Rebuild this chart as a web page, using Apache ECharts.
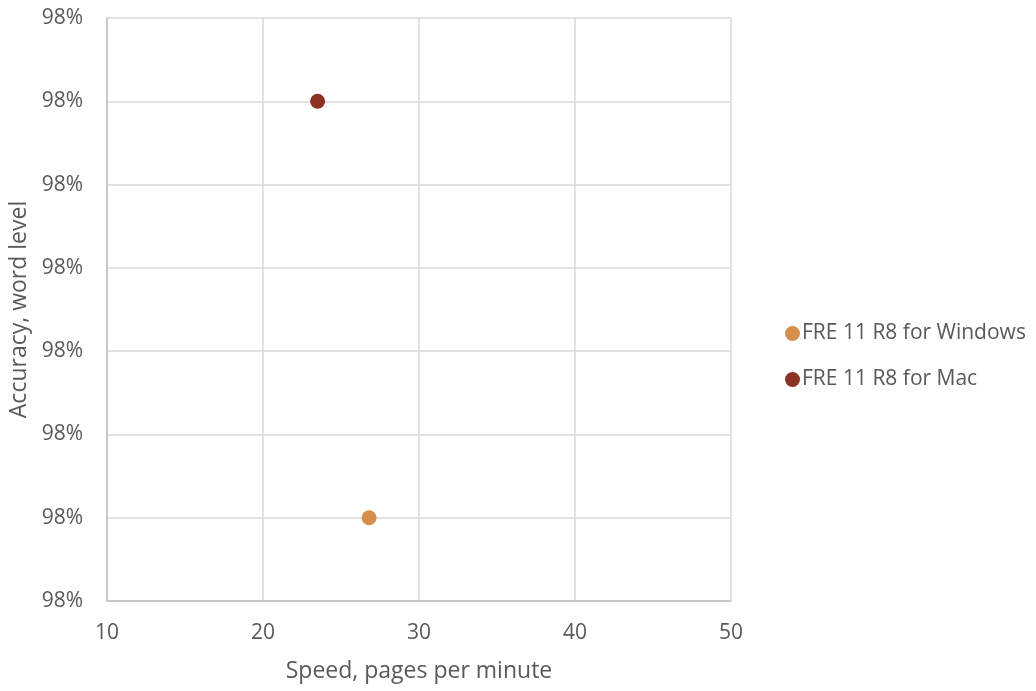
<!DOCTYPE html>
<html>
<head>
<meta charset="utf-8">
<script src="https://cdn.jsdelivr.net/npm/echarts@6/dist/echarts.min.js"></script>
<style>html,body{margin:0;padding:0;background:#fff}#c{width:1036px;height:691px}</style>
</head>
<body>
<div id="c"></div>
<script>
const seriesNames = ['FRE 11 R8 for Windows', 'FRE 11 R8 for Mac'];
const speedValues = [26.8, 23.5];          // pages per minute
const accuracyValues = [97.85, 98.10];     // percent, word level (labels all round to 98%)
const seriesColors = ['#D4904A', '#8B3222'];
const xTicks = [10, 20, 30, 40, 50];

const font = '"Open Sans", sans-serif';
const textColor = '#595959';
const chart = echarts.init(document.getElementById('c'), null, {renderer: 'canvas'});
chart.setOption({
  animation: false,
  backgroundColor: '#fff',
  grid: {left: 107, right: 305, top: 18, bottom: 90, containLabel: false, outerBoundsMode: 'none'},
  xAxis: {
    type: 'value', min: xTicks[0], max: xTicks[xTicks.length - 1], interval: 10,
    name: 'Speed, pages per minute', nameLocation: 'middle', nameGap: 59,
    nameTextStyle: {fontFamily: font, fontSize: 23, color: textColor},
    axisLine: {show: true, lineStyle: {color: '#BFBFBF', width: 1.5}},
    axisTick: {show: false},
    axisLabel: {fontFamily: font, fontSize: 21, color: textColor, margin: 22},
    splitLine: {show: true, lineStyle: {color: '#D9D9D9', width: 1.5}}
  },
  yAxis: {
    type: 'value', min: 97.80, max: 98.15, interval: 0.05,
    name: 'Accuracy, word level', nameLocation: 'middle', nameGap: 75,
    nameTextStyle: {fontFamily: font, fontSize: 23, color: textColor},
    axisLine: {show: true, lineStyle: {color: '#BFBFBF', width: 1.5}},
    axisTick: {show: false},
    axisLabel: {fontFamily: font, fontSize: 21, color: textColor, margin: 24,
      formatter: v => Math.round(v) + '%'},
    splitLine: {show: true, lineStyle: {color: '#D9D9D9', width: 1.5}}
  },
  legend: {
    orient: 'vertical', left: 780, top: 318, itemGap: 25,
    icon: 'circle', itemWidth: 15, itemHeight: 15,
    textStyle: {fontFamily: font, fontSize: 21, color: textColor, padding: [0,0,0,-3]},
    data: seriesNames
  },
  series: seriesNames.map((n, i) => ({
    name: n, type: 'scatter', symbol: 'circle', symbolSize: 15,
    itemStyle: {color: seriesColors[i], opacity: 1},
    data: [[speedValues[i], accuracyValues[i]]]
  }))
});
</script>
</body>
</html>
